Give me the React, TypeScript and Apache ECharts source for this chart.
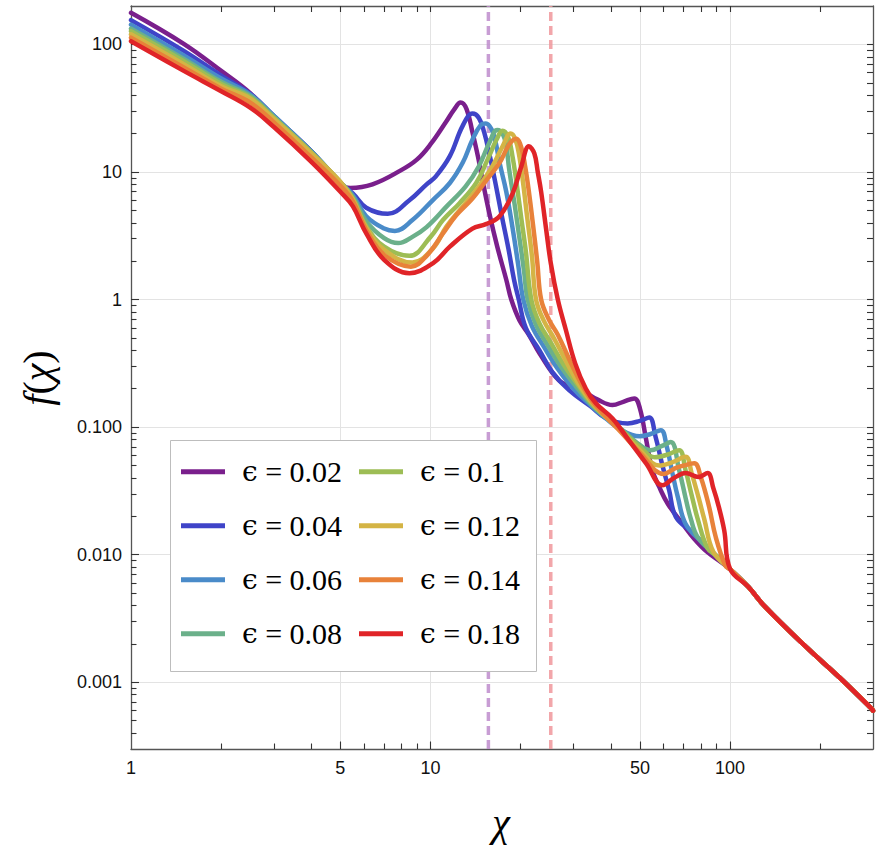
import React, { useEffect, useRef } from "react";
import * as echarts from "echarts";

const names = ["ϵ = 0.02", "ϵ = 0.04", "ϵ = 0.06", "ϵ = 0.08", "ϵ = 0.1", "ϵ = 0.12", "ϵ = 0.14", "ϵ = 0.18"];
const colors = ["#7a1f8c", "#3f44c8", "#4a8bc9", "#6bb08a", "#9dbd55", "#d4b445", "#e8823a", "#e02428"];

const eps002 = [[1,177],[1.5,101],[2,62],[2.5,41.5],[3,27],[4,14.5],[5,8.0],[5.4,7.5],[6.4,8.0],[7.9,10.2],[9,12.5],[10,16.5],[11.3,25],[12,31],[12.6,35],[13.2,31],[13.8,20.5],[14.4,13.2],[14.9,8.7],[15.7,4.8],[16.7,2.6],[17.9,1.43],[18.6,1.0],[19.8,0.69],[21.3,0.53],[23.1,0.38],[26.8,0.233],[30,0.205],[33,0.185],[36,0.165],[40.5,0.149],[44,0.158],[47.9,0.168],[50,0.14],[52.5,0.079],[55,0.046],[58,0.034],[62,0.025],[69.4,0.0175],[76,0.0133],[83.6,0.0106],[100,0.0077]];
const eps004 = [[1,155],[1.5,89],[2,57],[2.5,41],[3,27.5],[4,14.5],[5,8.2],[5.5,6.8],[6.1,5.25],[7.2,4.7],[8.5,6.0],[9.7,8.0],[10.4,9.2],[11.6,13.3],[12.8,23],[13.8,28.7],[14.5,26.5],[15.1,20.5],[15.7,14],[16.5,8.0],[17.3,4.5],[18.2,2.5],[19.0,1.43],[19.7,1.0],[20.8,0.6],[23.1,0.40],[25.5,0.27],[29,0.195],[34.3,0.145],[38.6,0.117],[45.5,0.107],[50,0.112],[53.7,0.119],[56.4,0.084],[59.2,0.052],[62.6,0.032],[65.9,0.0198],[75.2,0.0148],[84,0.0113],[100,0.0077]];
const eps006 = [[1,143],[1.5,82],[2,54],[2.5,40.5],[3,27.5],[4,14.5],[5,8.3],[5.5,6.6],[6.1,4.5],[7,3.6],[7.6,3.45],[8.7,4.2],[10.2,6.05],[11.6,8.2],[12.8,11.8],[13.8,17.9],[14.7,23.3],[15.3,24],[16.0,21.5],[16.5,17],[17,11.8],[17.9,7.0],[18.8,3.6],[19.6,1.9],[20.4,1.0],[21.8,0.62],[24,0.42],[26.5,0.29],[30,0.2],[34.3,0.148],[38,0.12],[43.7,0.094],[49.9,0.0848],[54,0.088],[58.7,0.0946],[61.5,0.07],[64,0.045],[67,0.028],[71,0.0175],[80,0.0127],[90,0.0098],[100,0.0077]];
const eps008 = [[1,133],[1.5,77],[2,51],[2.5,39.5],[3,27],[4,14.3],[5,8.3],[5.5,6.4],[6.1,4.1],[7,3.03],[7.8,2.77],[8.7,3.1],[9.7,3.7],[11.3,5.35],[13.1,7.7],[14.5,11.1],[15.7,16.9],[16.7,21.3],[17.4,20],[17.9,16],[18.3,10.5],[19.1,5.5],[19.9,2.8],[20.5,1.7],[21.1,1.0],[22.5,0.63],[24.6,0.44],[27.2,0.3],[30.5,0.21],[34.3,0.152],[38,0.122],[43.7,0.095],[49,0.075],[54.3,0.066],[59,0.071],[63.4,0.0766],[67.6,0.046],[71,0.028],[74,0.019],[78,0.0137],[90,0.0098],[100,0.0077]];
const eps010 = [[1,127],[1.5,74],[2,49],[2.5,38.5],[3,26.5],[4,14.2],[5,8.3],[5.5,6.2],[6.1,3.75],[7,2.6],[8.5,2.2],[10,3.1],[11,4.2],[12.5,5.7],[14.2,8.2],[15.5,12.5],[16.6,17.9],[17.4,21],[18.2,18.5],[18.8,13],[19.4,8],[20.1,4.3],[20.8,2.4],[21.7,1.0],[23.1,0.65],[25.2,0.46],[27.8,0.31],[31,0.215],[34.3,0.156],[38,0.123],[43.7,0.093],[50,0.07],[56,0.058],[62,0.061],[67.6,0.066],[71,0.046],[74.5,0.029],[78,0.019],[84,0.0113],[90,0.0098],[100,0.0077]];
const eps012 = [[1,120],[1.5,70],[2,47],[2.5,37.5],[3,26],[4,14],[5,8.4],[5.5,6.1],[6.1,3.65],[7,2.45],[8.7,1.95],[10.2,2.53],[11.3,3.73],[12.8,5.35],[14.5,7.7],[16.1,11.1],[17.4,15.9],[18.5,20],[19.2,18],[19.8,13.2],[20.4,8],[21.0,4.5],[21.8,2.2],[22.5,1.0],[23.9,0.68],[25.8,0.5],[28.3,0.33],[31,0.225],[34.3,0.16],[38,0.124],[43.7,0.091],[50,0.066],[58,0.05],[64,0.053],[71,0.0585],[74.5,0.043],[78.5,0.028],[82,0.019],[88,0.0105],[100,0.0077]];
const eps014 = [[1,113],[1.5,66],[2,45],[2.5,35],[3,24.5],[4,13],[5,7.8],[5.5,5.9],[6.1,3.5],[7,2.24],[8.6,1.81],[9.7,2.2],[11,3.3],[12.2,4.6],[13.8,6.2],[15.3,8.5],[17,11.8],[17.9,15],[18.6,17.3],[19.3,18.2],[20.1,15.5],[20.7,11],[21.3,7],[22,3.8],[22.7,2],[23.4,1.0],[24.8,0.7],[26.6,0.53],[29.4,0.32],[32,0.215],[34.3,0.165],[38,0.125],[43.7,0.089],[50,0.063],[60,0.043],[66,0.048],[70,0.05],[75.9,0.052],[80,0.04],[85,0.024],[89.6,0.0137],[96.5,0.0082],[100,0.0077]];
const eps018 = [[1,106],[1.5,62],[2,43],[2.5,32],[3,22.5],[4,12],[5,7.0],[5.5,5.4],[6.1,3.3],[7,2.05],[8.5,1.61],[10.2,1.93],[11.6,2.6],[13.8,3.6],[15.3,3.9],[17,4.5],[18.8,6.8],[20.1,11.1],[21.3,15.9],[22.2,14],[22.8,10],[23.4,7],[24.3,3.6],[25.2,1.93],[26.6,1.0],[28.3,0.577],[30.4,0.316],[33,0.2],[35.7,0.153],[40.5,0.117],[45.9,0.079],[52.5,0.0517],[59.5,0.035],[65,0.04],[71,0.0437],[78.5,0.0406],[84.1,0.0437],[88,0.033],[91.7,0.0237],[95.6,0.0155],[100,0.00775]];
const tail = [[115,0.0056],[131,0.0039],[179,0.0019],[231,0.0011],[295,0.00063],[300,0.0006]];

const curves = [eps002, eps004, eps006, eps008, eps010, eps012, eps014, eps018];

const vlineX = [15.6, 25.2];
const vlineColors = ["rgba(190,140,205,0.85)", "rgba(240,150,155,0.85)"];

const xMin = 1;
const xMax = 300;
const yMin = 0.0003;
const yMax = 200;

const xLabelValues = [1, 5, 10, 50, 100];
const xGridValues = [5, 10, 50, 100];
const xMinorValues = [2, 3, 4, 6, 7, 8, 9, 20, 30, 40, 60, 70, 80, 90, 200];
const xTopValues = [2, 3, 4, 5, 6, 7, 8, 9, 10, 20, 30, 40, 50, 60, 70, 80, 90, 100, 200];
const yLabelValues = [0.001, 0.01, 0.1, 1, 10, 100];
const yMinorValues = [
  0.0004, 0.0005, 0.0006, 0.0007, 0.0008, 0.0009,
  0.002, 0.003, 0.004, 0.005, 0.006, 0.007, 0.008, 0.009,
  0.02, 0.03, 0.04, 0.05, 0.06, 0.07, 0.08, 0.09,
  0.2, 0.3, 0.4, 0.5, 0.6, 0.7, 0.8, 0.9,
  2, 3, 4, 5, 6, 7, 8, 9,
  20, 30, 40, 50, 60, 70, 80, 90,
];
const yRightValues = [...yLabelValues, ...yMinorValues];

const frameColor = "#555555";
const tickColor = "#333333";
const serif = "Liberation Serif";
const greekSerif = "DejaVu Serif";
const sans = "Liberation Sans";

export default function App() {
  const ref = useRef<HTMLDivElement>(null);

  useEffect(() => {
    if (!ref.current) return;
    const chart = echarts.init(ref.current, null, { renderer: "svg" });

    const axisLine = { show: true, onZero: false, lineStyle: { color: frameColor, width: 1.3 } };
    const tickStyle = { color: tickColor, width: 1.1 };

    const xBase = { type: "log", logBase: 10, min: xMin, max: xMax, gridIndex: 0 };
    const yBase = { type: "log", logBase: 10, min: yMin, max: yMax, gridIndex: 0 };

    const series: any[] = [];
    vlineX.forEach((vx, i) => {
      series.push({
        type: "line",
        data: [[vx, yMin], [vx, yMax]],
        symbol: "none",
        silent: true,
        z: 1,
        lineStyle: { color: vlineColors[i], width: 3.5, type: [9, 5] },
      });
    });
    curves.forEach((c, i) => {
      series.push({
        type: "line",
        name: names[i],
        data: c.concat(tail),
        color: colors[i],
        symbol: "none",
        showSymbol: false,
        smooth: 0.4,
        z: 2,
        lineStyle: { color: colors[i], width: 4.5, cap: "round", join: "round" },
      });
    });

    const legendCommon = {
      orient: "vertical",
      selectedMode: false,
      icon: "rect",
      itemWidth: 44,
      itemHeight: 5,
      itemGap: 24,
      padding: 0,
      z: 10,
      formatter: (name: string) => `{e|${name.slice(0, 1)}}{t|${name.slice(1)}}`,
      textStyle: {
        fontFamily: serif,
        fontSize: 30,
        lineHeight: 30,
        color: "#000",
        padding: [0, 0, 0, 12],
        rich: {
          e: { fontFamily: greekSerif, fontSize: 28, lineHeight: 30, color: "#000" },
          t: { fontFamily: serif, fontSize: 30, lineHeight: 30, color: "#000" },
        },
      },
    };

    chart.setOption({
      animation: false,
      backgroundColor: "#ffffff",
      grid: { left: 131, right: 7, top: 6, bottom: 102, containLabel: false, outerBoundsMode: "none" },
      xAxis: [
        {
          ...xBase,
          position: "bottom",
          axisLine,
          axisTick: { show: true, inside: true, length: 7.5, customValues: xGridValues, lineStyle: tickStyle },
          axisLabel: { show: true, customValues: xLabelValues, margin: 10, fontSize: 18, color: "#111", fontFamily: sans },
          splitLine: { show: true, lineStyle: { color: "#e3e3e3", width: 1 } },
        },
        {
          ...xBase,
          position: "bottom",
          axisLine: { show: false },
          axisTick: { show: true, inside: true, length: 5.5, customValues: xMinorValues, lineStyle: tickStyle },
          axisLabel: { show: false },
          splitLine: { show: false },
        },
        {
          ...xBase,
          position: "top",
          axisLine,
          axisTick: { show: true, inside: true, length: 6, customValues: xTopValues, lineStyle: tickStyle },
          axisLabel: { show: false },
          splitLine: { show: false },
        },
      ],
      yAxis: [
        {
          ...yBase,
          position: "left",
          axisLine,
          axisTick: { show: true, inside: true, length: 8, customValues: yLabelValues, lineStyle: tickStyle },
          axisLabel: {
            show: true,
            customValues: yLabelValues,
            margin: 9,
            fontSize: 18,
            color: "#111",
            fontFamily: sans,
            formatter: (v: number) => (v >= 1 ? String(Math.round(v)) : v.toFixed(3)),
          },
          splitLine: { show: true, lineStyle: { color: "#e3e3e3", width: 1 } },
        },
        {
          ...yBase,
          position: "left",
          axisLine: { show: false },
          axisTick: { show: true, inside: true, length: 5.5, customValues: yMinorValues, lineStyle: tickStyle },
          axisLabel: { show: false },
          splitLine: { show: false },
        },
        {
          ...yBase,
          position: "right",
          axisLine,
          axisTick: { show: true, inside: true, length: 6, customValues: yRightValues, lineStyle: tickStyle },
          axisLabel: { show: false },
          splitLine: { show: false },
        },
      ],
      legend: [
        { ...legendCommon, data: names.slice(0, 4), left: 181, top: 456.7 },
        { ...legendCommon, data: names.slice(4, 8), left: 359, top: 456.7 },
      ],
      graphic: {
        elements: [
          {
            type: "rect",
            z: 5,
            silent: true,
            shape: { x: 170.5, y: 440.5, width: 366, height: 231 },
            style: { fill: "#ffffff", stroke: "#bdbdbd", lineWidth: 1 },
          },
          {
            type: "text",
            z: 6,
            silent: true,
            x: 501,
            y: 822,
            style: {
              text: "χ",
              fontFamily: serif,
              fontStyle: "italic",
              fontSize: 40,
              fill: "#000",
              align: "center",
              verticalAlign: "middle",
            },
          },
          {
            type: "text",
            z: 6,
            silent: true,
            x: 37,
            y: 378,
            rotation: Math.PI / 2,
            style: {
              text: "{i|f}{n|(}{i|χ}{n|)}",
              fontFamily: serif,
              fontSize: 40,
              fill: "#000",
              align: "center",
              verticalAlign: "middle",
              rich: {
                i: { fontFamily: serif, fontStyle: "italic", fontSize: 40, fill: "#000" },
                n: { fontFamily: serif, fontSize: 40, fill: "#000" },
              },
            },
          },
        ],
      },
      series,
    });

    return () => {
      chart.dispose();
    };
  }, []);

  return (
    <div
      ref={ref}
      style={{ position: "fixed", left: 0, top: 0, width: 880, height: 851, background: "#fff" }}
    />
  );
}
